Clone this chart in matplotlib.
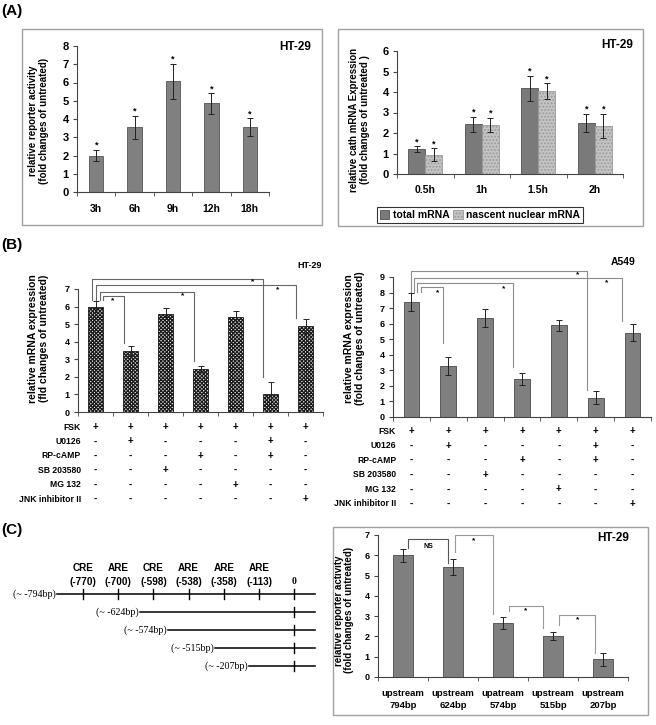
import numpy as np
import matplotlib
matplotlib.use('Agg')
import matplotlib.pyplot as plt
from matplotlib.patches import Rectangle

plt.rcParams['font.family'] = ['Liberation Sans', 'DejaVu Sans']
plt.rcParams['font.weight'] = 'bold'
plt.rcParams['axes.labelweight'] = 'bold'
plt.rcParams['hatch.linewidth'] = 0.9

W, H = 656, 725

# ---- (A) left: reporter activity time course
a_times = ['3h', '6h', '9h', '12h', '18h']
a_act = [2.0, 3.55, 6.07, 4.85, 3.55]
a_act_err = [0.3, 0.62, 0.95, 0.57, 0.5]

# ---- (A) right: cath mRNA
a2_times = ['0.5h', '1h', '1.5h', '2h']
a2_total = [1.2, 2.42, 4.18, 2.5]
a2_total_err = [0.15, 0.37, 0.6, 0.45]
a2_nasc = [0.95, 2.38, 4.05, 2.35]
a2_nasc_err = [0.3, 0.35, 0.38, 0.58]

# ---- (B) inhibitors
b_rows = ['FSK', 'U0126', 'RP-cAMP', 'SB 203580', 'MG 132', 'JNK inhibitor II']
b_signs = ['+++++++',
           '-+---+-',
           '---+-+-',
           '--+----',
           '----+--',
           '------+']
b_ht29 = [6.0, 3.5, 5.6, 2.45, 5.4, 1.02, 4.9]
b_ht29_err = [0.3, 0.28, 0.3, 0.15, 0.35, 0.68, 0.42]
b_a549 = [7.4, 3.28, 6.38, 2.43, 5.9, 1.25, 5.42]
b_a549_err = [0.6, 0.6, 0.57, 0.37, 0.35, 0.4, 0.55]

# ---- (C) promoter deletions
c_sites = ['CRE', 'ARE', 'CRE', 'ARE', 'ARE', 'ARE']
c_site_pos = ['(-770)', '(-700)', '(-598)', '(-538)', '(-358)', '(-113)']
c_constructs = ['(~ -794bp)', '(~ -624bp)', '(~ -574bp)', '(~ -515bp)', '(~ -207bp)']
c_construct_start = [-0.74, 1.62, 2.41, 3.75, 4.72]   # schematic units: sites 0..5, TSS at 6
c_labels = ['upstream\n794bp', 'upstream\n624bp', 'upatream\n574bp',
            'upstream\n515bp', 'upstream\n207bp']
c_act = [6.0, 5.42, 2.67, 2.0, 0.87]
c_act_err = [0.33, 0.4, 0.3, 0.2, 0.32]

# brackets: (bar_l, bar_r, top, dx_l, dx_r, foot_l, foot_r, mark, mark_x, mark_y)
b_ht29_br = [(0, 5, 7.55, -0.1, -0.21, 6.35, 2.0, '*', 4.5, 7.4),
             (0, 6, 7.2, 0.0, -0.27, 6.35, 5.35, '*', 5.2, 6.95),
             (0, 3, 6.85, 0.13, -0.2, 6.35, 2.9, '*', 2.5, 6.6),
             (0, 1, 6.6, 0.2, -0.19, 6.35, 3.95, '*', 0.5, 6.35)]
b_a549_br = [(0, 5, 9.39, 0.0, -0.25, 8.05, 1.75, '*', 4.5, 9.15),
             (0, 6, 8.94, 0.08, -0.3, 8.05, 6.2, '*', 5.3, 8.6),
             (0, 3, 8.6, 0.16, -0.25, 8.05, 3.2, '*', 2.5, 8.25),
             (0, 1, 8.36, 0.27, -0.14, 8.05, 4.75, '*', 0.7, 8.0)]
c_br = [(0, 1, 6.8, 0.1, -0.1, 6.35, 5.6, 'NS', 0.5, 6.45),
        (1, 2, 7.0, 0.04, -0.2, 6.15, 3.1, '*', 1.42, 6.7),
        (2, 3, 3.5, 0.12, -0.2, 3.25, 2.4, '*', 2.45, 3.25),
        (3, 4, 3.05, 0.12, -0.16, 2.55, 1.2, '*', 3.5, 2.8)]

fig = plt.figure(figsize=(W / 100, H / 100), dpi=100)


def px_axes(l, t, r, b):
    return fig.add_axes([l / W, 1 - b / H, (r - l) / W, (b - t) / H])


def fig_text(x, y, s, **kw):
    fig.text(x / W, 1 - y / H, s, **kw)


def box(l, t, r, b):
    fig.add_artist(Rectangle((l / W, 1 - b / H), (r - l) / W, (b - t) / H,
                             transform=fig.transFigure, fill=False,
                             ec='#a0a0a0', lw=1.0))


def style(ax, n, ymax, fs):
    ax.set_xlim(-0.5, n - 0.5)
    ax.set_ylim(0, ymax)
    ax.spines[['top', 'right']].set_visible(False)
    for s in ['left', 'bottom']:
        ax.spines[s].set_color('#444444')
        ax.spines[s].set_linewidth(0.8)
    ax.set_yticks(range(0, ymax + 1))
    ax.set_xticks(np.arange(-0.5, n), minor=True)
    ax.tick_params(axis='x', which='major', length=0)
    ax.tick_params(axis='x', which='minor', length=3, color='#444444')
    ax.tick_params(axis='y', length=3, labelsize=fs, pad=3, color='#444444')
    ax.patch.set_alpha(0)


def brackets(ax, items, color, fs):
    for bl, br, top, dl, dr, fl, fr, mark, mx, my in items:
        xl, xr = bl + dl, br + dr
        ax.plot([xl, xl, xr, xr], [fl, top, top, fr], color=color, lw=0.8,
                clip_on=False)
        ax.text(mx, my, mark, ha='center', va='center', fontsize=fs,
                clip_on=False)


def stars(ax, x, vals, errs, fs=6.5):
    for xi, v, e in zip(x, vals, errs):
        ax.text(xi, v + e, '*', ha='center', va='bottom', fontsize=fs)


ekw = dict(lw=0.7, capthick=0.7, ecolor='#222222')

# ================= (A) left
box(22, 29, 322, 225)
ax = px_axes(77, 46, 269, 192)
style(ax, 5, 8, 8)
x = np.arange(5)
ax.bar(x, a_act, 0.37, color='#808080', edgecolor='#555555', lw=0.6,
       yerr=a_act_err, capsize=2, error_kw=ekw)
stars(ax, x, a_act, a_act_err)
ax.set_xticks(x, a_times, fontsize=7.5)
ax.tick_params(axis='x', which='major', pad=9)
ax.set_ylabel('relative reporter activity\n(fold changes of untreated)',
              fontsize=7, va='center', linespacing=1.1)
ax.yaxis.set_label_coords(-0.2, 0.49)
fig_text(295, 47, 'HT-29', ha='center', va='center', fontsize=8.5)

# ================= (A) right
box(338, 29, 643, 226)
ax = px_axes(397, 51, 623, 174)
style(ax, 4, 6, 8)
x = np.arange(4)
w = 0.3
ax.bar(x - w / 2, a2_total, w, color='#7a7a7a', edgecolor='#505050', lw=0.6,
       yerr=a2_total_err, capsize=2, error_kw=ekw, label='total mRNA')
ax.bar(x + w / 2, a2_nasc, w, color='#c4c4c4', edgecolor='#9a9a9a', lw=0.6,
       hatch='.....', yerr=a2_nasc_err, capsize=2, error_kw=ekw,
       label='nascent nuclear mRNA')
stars(ax, x - w / 2, a2_total, a2_total_err)
stars(ax, x + w / 2, a2_nasc, a2_nasc_err)
ax.set_xticks(x, a2_times, fontsize=7.5)
ax.tick_params(axis='x', which='major', pad=8)
ax.set_ylabel('relative cath mRNA Expression\n(fold changes of untreated )',
              fontsize=7, va='center', linespacing=1.1)
ax.yaxis.set_label_coords(-0.165, 0.44)
fig_text(617, 45, 'HT-29', ha='center', va='center', fontsize=8.5)
leg = ax.legend(loc='center', bbox_to_anchor=(480 / W, 1 - 215 / H),
                bbox_transform=fig.transFigure, ncol=2, fancybox=False,
                edgecolor='black', fontsize=7.5, handlelength=0.9,
                handleheight=0.9, columnspacing=0.4, handletextpad=0.3,
                borderpad=0.25, borderaxespad=0)
leg.get_frame().set_linewidth(0.8)


# ================= (B)
def table(ax, first, step):
    for i, (name, row) in enumerate(zip(b_rows, b_signs)):
        off = -(first + step * i) * 0.72
        ax.annotate(name, xy=(0.012, 0), xycoords='axes fraction',
                    xytext=(0, off), textcoords='offset points',
                    ha='right', va='center', fontsize=6.2)
        for j, s in enumerate(row):
            ax.annotate(s, xy=(j, 0), xycoords=('data', 'axes fraction'),
                        xytext=(0, off), textcoords='offset points',
                        ha='center', va='center', fontsize=7)


ax = px_axes(78, 289, 323, 412)
style(ax, 7, 7, 6.5)
x = np.arange(7)
ax.bar(x, b_ht29, 0.43, color='#e8e8e8', edgecolor='#1a1a1a', lw=0.6,
       hatch='xxxxxxxxx', yerr=b_ht29_err, capsize=2, error_kw=ekw)
ax.set_xticks([])
brackets(ax, b_ht29_br, '#666666', 6)
table(ax, 15, 14.4)
ax.set_ylabel('relative mRNA expression\n(fld changes of untreated)',
              fontsize=7.5, va='center', linespacing=1.1)
ax.yaxis.set_label_coords(-0.16, 0.6)
fig_text(310, 265, 'HT-29', ha='center', va='center', fontsize=6.5)

ax = px_axes(393, 277, 651, 417)
style(ax, 7, 9, 6.5)
ax.bar(x, b_a549, 0.43, color='#7f7f7f', edgecolor='#4a4a4a', lw=0.6,
       yerr=b_a549_err, capsize=2, error_kw=ekw)
ax.set_xticks([])
brackets(ax, b_a549_br, '#8c8c8c', 6)
table(ax, 14, 14.6)
ax.set_ylabel('relative mRNA expression\n(fold changes of untreated)',
              fontsize=7.5, va='center', linespacing=1.1)
ax.yaxis.set_label_coords(-0.15, 0.56)
fig_text(623, 262, 'A549', ha='center', va='center', fontsize=7.5)

# ================= (C) left: schematic
ax = px_axes(0, 550, 325, 680)
ax.set_xlim(-2.36, 6.875)
ax.set_ylim(4.78, -2.44)
ax.axis('off')
end = 6.59
for r, (lab, st) in enumerate(zip(c_constructs, c_construct_start)):
    ax.plot([st, end], [r, r], color='black', lw=1.1)
    ax.plot([6, 6], [r - 0.3, r + 0.3], color='black', lw=1.0)
    ax.text(st - 0.03, r, lab, ha='right', va='center', fontsize=7.2,
            family='Liberation Serif', fontweight='normal')
for i, (nm, ps) in enumerate(zip(c_sites, c_site_pos)):
    ax.plot([i, i], [-0.3, 0.3], color='black', lw=1.0)
    ax.text(i, -1.45, nm, ha='center', va='center', fontsize=7.2)
    ax.text(i, -0.68, ps, ha='center', va='center', fontsize=7.2)
ax.text(6, -0.68, '0', ha='center', va='center', fontsize=7,
        family='Liberation Serif')

# ================= (C) right
box(333, 527, 648, 715)
ax = px_axes(378, 535, 628, 677)
style(ax, 5, 7, 6.5)
x = np.arange(5)
ax.bar(x, c_act, 0.4, color='#7f7f7f', edgecolor='#4a4a4a', lw=0.6,
       yerr=c_act_err, capsize=2, error_kw=ekw)
ax.set_xticks(x, c_labels, fontsize=6.8, linespacing=1.3)
ax.tick_params(axis='x', which='major', pad=9)
brackets(ax, c_br[:1], '#555555', 5)
brackets(ax, c_br[1:], '#999999', 6)
ax.set_ylabel('relative reporter activity\n(fold changes of untreated)',
              fontsize=7, va='center', linespacing=1.1)
ax.yaxis.set_label_coords(-0.136, 0.47)
fig_text(613, 538, 'HT-29', ha='center', va='center', fontsize=8.5)

# panel letters
fig_text(1, 11, '(A)', ha='left', va='center', fontsize=11)
fig_text(1, 245, '(B)', ha='left', va='center', fontsize=11)
fig_text(1, 530, '(C)', ha='left', va='center', fontsize=11)

fig.savefig('out.png', dpi=100)
